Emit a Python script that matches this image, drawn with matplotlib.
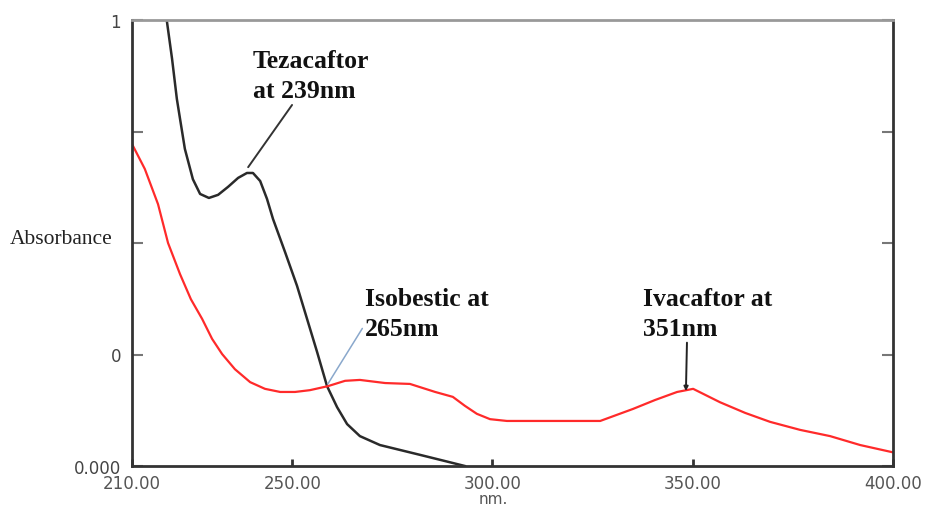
import matplotlib
matplotlib.use("Agg")
import matplotlib.pyplot as plt

# Red spectrum (Ivacaftor)
red_wl = [210.0, 213.2, 216.5, 219.0, 222.0, 224.7, 227.5, 230.0, 232.5, 235.7, 239.5,
          243.2, 247.0, 250.7, 254.4, 258.9, 263.2, 266.9, 273.2, 279.4, 285.7, 290.1,
          293.1, 296.1, 299.4, 303.6, 316.9, 326.9, 335.1, 340.6, 346.1, 350.1, 356.8,
          363.1, 369.3, 376.8, 384.3, 391.8, 399.8]
red_abs = [0.722, 0.666, 0.587, 0.500, 0.430, 0.374, 0.330, 0.285, 0.251, 0.217, 0.188,
           0.173, 0.166, 0.166, 0.170, 0.179, 0.191, 0.193, 0.186, 0.184, 0.166, 0.155,
           0.135, 0.117, 0.105, 0.101, 0.101, 0.101, 0.128, 0.148, 0.166, 0.173, 0.143,
           0.119, 0.099, 0.081, 0.067, 0.047, 0.031]

# Black spectrum (Tezacaftor)
blk_wl = [218.5, 218.7, 220.0, 221.2, 222.0, 223.2, 225.2, 227.0, 229.2, 231.5, 234.0,
          236.5, 238.7, 240.2, 242.0, 243.7, 245.2, 248.2, 251.2, 253.7, 256.2, 258.7,
          261.2, 263.7, 266.9, 271.9, 281.9, 288.2, 293.1]
blk_abs = [1.047, 0.998, 0.913, 0.823, 0.778, 0.711, 0.643, 0.610, 0.601, 0.608, 0.626,
           0.646, 0.657, 0.657, 0.639, 0.599, 0.554, 0.480, 0.404, 0.330, 0.256, 0.179,
           0.132, 0.094, 0.067, 0.047, 0.025, 0.011, 0.0]

x_ticks = [210, 250, 300, 350, 400]
x_labels = ["210.00", "250.00", "300.00", "350.00", "400.00"]
y_ticks = [0.0, 0.25, 0.5, 0.75, 1.0]
y_labels = ["0.000", "0", "", "", "1"]

fig = plt.figure(figsize=(9.30, 5.06), dpi=100)
W, H = 930, 506
ax = fig.add_axes([132 / W, 1 - 467 / H, (893 - 132) / W, (467 - 21) / H])
ax.set_xlim(210, 400)
ax.set_ylim(0, 1)

ax.plot(blk_wl, blk_abs, color="#2a2a2a", lw=1.8)
ax.plot(red_wl, red_abs, color="#ff2a2a", lw=1.6)

for s in ["left", "right", "bottom"]:
    ax.spines[s].set_color("#333333")
    ax.spines[s].set_linewidth(2)
ax.spines["top"].set_color("#999999")
ax.spines["top"].set_linewidth(2)

ax.set_xticks(x_ticks)
ax.set_xticklabels(x_labels, color="#555555", fontsize=12, family="DejaVu Sans")
ax.set_yticks(y_ticks)
ax.set_yticklabels(y_labels, color="#444444", fontsize=12, family="DejaVu Sans")
ax.tick_params(axis="x", direction="in", length=5, width=2, color="#333333", pad=6)
ax.tick_params(axis="y", direction="in", length=8, width=1.5, color="#777777",
               right=True, pad=8)

fig.text(493 / W, 1 - 500 / H, "nm.", color="#555555", fontsize=11,
         family="DejaVu Sans", ha="center", va="center")
fig.text(10 / W, 1 - 240 / H, "Absorbance", family="Liberation Serif", fontsize=15.5,
         va="center", ha="left", color="#222222")

tfont = dict(family="Liberation Serif", fontsize=18.5, fontweight="bold",
             color="#111111", linespacing=1.4)

ax.annotate("Tezacaftor\nat 239nm", xy=(239.0, 0.670), xytext=(240.2, 0.935),
            va="top", ha="left",
            arrowprops=dict(arrowstyle="-", color="#333333", lw=1.4,
                            shrinkA=0, shrinkB=0, relpos=(0.385, 0.1)), **tfont)
ax.annotate("Isobestic at\n265nm", xy=(258.9, 0.184), xytext=(268.2, 0.402),
            va="top", ha="left",
            arrowprops=dict(arrowstyle="-", color="#8aa8cc", lw=1.1,
                            shrinkA=0, shrinkB=0, relpos=(0.0, 0.3)), **tfont)
ax.annotate("Ivacaftor at\n351nm", xy=(348.3, 0.168), xytext=(337.6, 0.402),
            va="top", ha="left",
            arrowprops=dict(arrowstyle="-|>", color="#222222", lw=1.4,
                            mutation_scale=6, shrinkA=0, shrinkB=0,
                            relpos=(0.34, 0.0)), **tfont)

fig.savefig("out.png", dpi=100, facecolor="white")
